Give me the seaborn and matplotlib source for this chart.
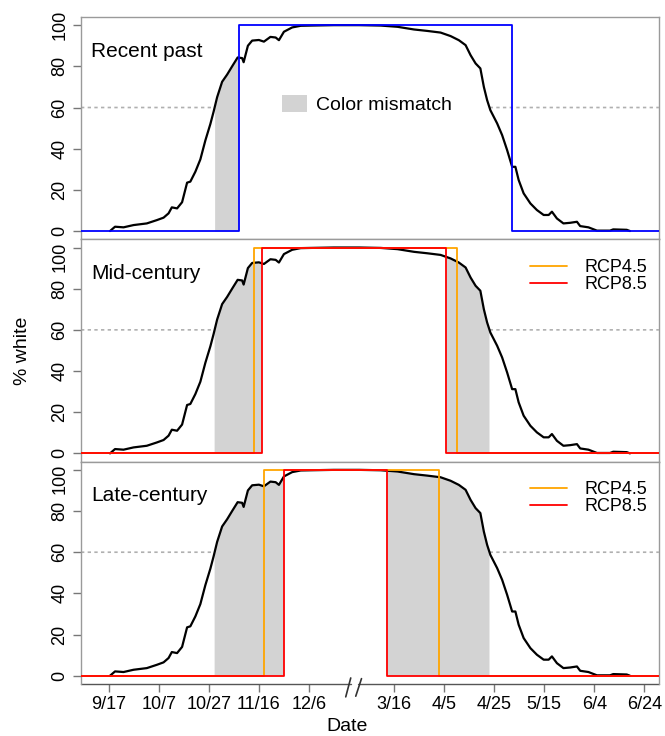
import numpy as np
import pandas as pd
import matplotlib
matplotlib.use('Agg')
import matplotlib.pyplot as plt
import matplotlib.transforms as mtransforms
from matplotlib.patches import Patch
from matplotlib.lines import Line2D
import seaborn as sns

# x is day on the broken axis: 9/17 = 0, 12/6 = 80, 3/16 = 114 (gap of winter cut out)
tick_pos = [0, 20, 40, 60, 80, 114, 134, 154, 174, 194, 214]
tick_labels = ['9/17', '10/7', '10/27', '11/16', '12/6', '3/16', '4/5', '4/25', '5/15', '6/4', '6/24']

# snow cover curve (% white landscape)
snow_day = [0.5, 2.5, 5.9, 9.9, 15.2, 19.2, 21.9, 23.9, 25.2, 27.3, 29.3, 31.3, 32.6, 34.6, 36.6,
            38.6, 40.6, 41.9, 43.3, 45.3, 47.3, 49.3, 51.5, 53.3, 53.9, 55.6, 57.3, 60.0, 62.0,
            64.6, 66.7, 68.0, 70.0, 73.3, 76.7, 80.7, 90.0, 100.0, 108.7,
            115.4, 122.0, 127.3, 132.6, 136.6, 139.9, 142.6, 144.6, 146.6, 148.5, 149.9, 151.2,
            152.5, 155.2, 157.2, 159.2, 161.2, 162.5, 163.8, 165.8, 168.5, 171.1, 173.8, 175.8,
            177.1, 179.1, 181.7, 184.4, 187.1, 188.4, 191.7, 195.1, 200.3, 201.6, 207.0, 208.3]
snow_pct = [0.0, 2.1, 1.8, 2.9, 3.7, 5.3, 6.5, 8.6, 11.5, 11.0, 14.0, 23.5, 24.0, 28.8, 34.8,
            44.0, 52.0, 58.0, 65.0, 72.5, 76.0, 80.0, 84.3, 84.0, 82.0, 90.0, 92.5, 92.8, 92.0,
            94.3, 94.0, 92.7, 96.8, 98.9, 99.7, 99.8, 100.0, 100.0, 99.8,
            99.2, 97.9, 97.2, 96.4, 94.7, 92.7, 90.3, 85.4, 81.4, 79.0, 70.0, 63.6,
            58.7, 52.3, 46.6, 39.3, 31.2, 31.2, 24.8, 18.3, 13.4, 10.2, 7.8, 7.8,
            9.4, 6.1, 3.7, 4.0, 4.5, 2.4, 1.8, 0.2, 0.2, 0.8, 0.6, 0.0]

panels = ['Recent past', 'Mid-century', 'Late-century']
# white coat onset / offset (axis days)
past_on, past_off = 51.9, 161.2
rcp45_on = [58.2, 62.2]
rcp45_off = [139.0, 131.9]
rcp85_on = [61.3, 70.1]
rcp85_off = [134.9, 111.0]
threshold = 60

XMIN, XMAX = -11.1, 219.9

sns.set_theme(style='ticks')
plt.rcParams['font.family'] = ['Liberation Sans', 'DejaVu Sans']
plt.rcParams['text.color'] = 'black'
plt.rcParams['axes.labelcolor'] = 'black'
plt.rcParams['xtick.labelcolor'] = 'black'
plt.rcParams['ytick.labelcolor'] = 'black'
spine_col = '#9a9a9a'

def coat_steps(on, off):
    return pd.DataFrame({'x': [XMIN, on, on, off, off, XMAX],
                         'y': [0, 0, 100, 100, 0, 0]})

grid = np.arange(XMIN, XMAX, 0.05)
curve = np.interp(grid, snow_day, snow_pct, left=0, right=0)

fig, axes = plt.subplots(3, 1, figsize=(6.65, 7.36), dpi=100, sharex=True)
fig.subplots_adjust(left=0.1218, right=0.991, top=0.977, bottom=0.0707, hspace=0)

for i, ax in enumerate(axes):
    if i == 0:
        on, off = past_on, past_off
    else:
        on, off = rcp85_on[i - 1], rcp85_off[i - 1]
    brown = (grid < on) | (grid > off)
    mismatch = brown & (curve >= threshold)
    ax.fill_between(grid, 0, curve, where=mismatch, color='#d3d3d3', lw=0, zorder=1)

    # dotted 60% line where landscape is mostly brown
    ax.plot(grid, np.where(curve < threshold, threshold, np.nan), color='#b0b0b0',
            lw=1.2, ls=(0, (2, 2)), zorder=1)

    sns.lineplot(x=snow_day, y=snow_pct, color='black', lw=1.6, estimator=None,
                 sort=False, ax=ax, zorder=3)

    if i == 0:
        d = coat_steps(past_on, past_off)
        sns.lineplot(data=d, x='x', y='y', color='#0000ff', lw=1.3, estimator=None,
                     sort=False, ax=ax, zorder=4)
        ax.legend(handles=[Patch(facecolor='#d3d3d3', edgecolor='none', label='Color mismatch')],
                  loc='center', bbox_to_anchor=(0.495, 0.607), frameon=False, fontsize=14,
                  handlelength=1.3, handleheight=1.0, handletextpad=0.45)
    else:
        d45 = coat_steps(rcp45_on[i - 1], rcp45_off[i - 1])
        d85 = coat_steps(rcp85_on[i - 1], rcp85_off[i - 1])
        sns.lineplot(data=d45, x='x', y='y', color='#ffa500', lw=1.3, estimator=None,
                     sort=False, ax=ax, zorder=4)
        sns.lineplot(data=d85, x='x', y='y', color='#ff0000', lw=1.3, estimator=None,
                     sort=False, ax=ax, zorder=5)
        handles = [Line2D([], [], color='#ffa500', lw=1.3, label='RCP4.5'),
                   Line2D([], [], color='#ff0000', lw=1.3, label='RCP8.5')]
        ax.legend(handles=handles, loc='upper right', bbox_to_anchor=(1.008, 0.985),
                  frameon=False, fontsize=13, handlelength=2.0, handletextpad=1.0,
                  labelspacing=0.0)

    ax.text(0.017, 0.822, panels[i], transform=ax.transAxes, fontsize=15, va='baseline')

    ax.set_xlim(XMIN, XMAX)
    ax.set_ylim(-4, 104)
    ax.set_yticks([0, 20, 40, 60, 80, 100])
    ax.tick_params(axis='y', labelrotation=90, labelsize=13, length=6, color='#777777',
                   width=1, pad=3)
    for lbl in ax.get_yticklabels():
        lbl.set_va('center')
    if i > 0:
        # top label nudged down so it clears the panel above
        top_lbl = ax.yaxis.get_major_ticks()[-1].label1
        top_lbl.set_transform(top_lbl.get_transform() +
                              mtransforms.ScaledTranslation(0, -0.09, fig.dpi_scale_trans))
    for s in ax.spines.values():
        s.set_color(spine_col)
        s.set_linewidth(1.0)
    ax.set_ylabel('')
    ax.set_xlabel('')

axes[1].set_ylabel('% white', fontsize=14, labelpad=15)

ax = axes[2]
ax.set_xticks(tick_pos)
ax.set_xticklabels(tick_labels)
ax.tick_params(axis='x', labelsize=13, length=6, color='#777777', width=1, pad=3)
ax.set_xlabel('Date', fontsize=14)
ax.xaxis.set_label_coords(0.46, -0.152)
for a in axes[:2]:
    a.tick_params(axis='x', length=0)

# broken x axis
ax.spines['bottom'].set_visible(False)
tr = ax.get_xaxis_transform()
ax.plot([XMIN, 96.9], [0, 0], color='#555555', lw=1.0, transform=tr, clip_on=False)
ax.plot([99.6, XMAX], [0, 0], color='#555555', lw=1.0, transform=tr, clip_on=False)
ax.plot([94.7, 96.7], [-0.058, 0.027], color='#333333', lw=1.2, transform=tr, clip_on=False)
ax.plot([98.7, 101.0], [-0.055, 0.024], color='#333333', lw=1.2, transform=tr, clip_on=False)

fig.savefig('out.png', dpi=100)
